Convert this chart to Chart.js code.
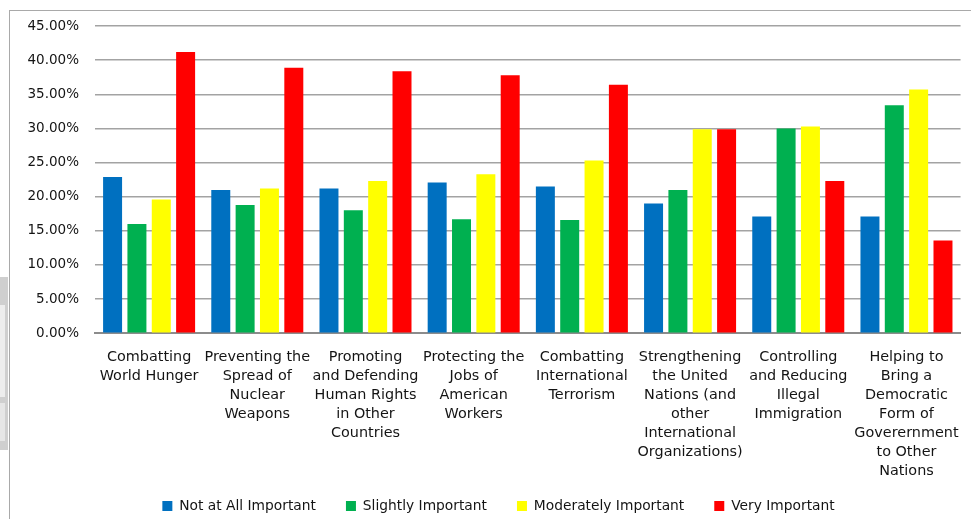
<!DOCTYPE html>
<html>
<head>
<meta charset="utf-8">
<script src="https://cdn.jsdelivr.net/npm/chart.js@4/dist/chart.umd.min.js"></script>
<style>
  html, body { margin: 0; padding: 0; background: #fff; overflow: hidden; }
  body { width: 971px; height: 519px; position: relative; }
  #frame {
    position: absolute; left: 9px; top: 10px;
    width: 970px; height: 530px;
    border-top: 1px solid #a9a9a9; border-left: 1px solid #a9a9a9;
  }
  #wrap { position: absolute; left: 0; top: 1px; width: 964px; height: 523px; }
  /* scrap of the neighbouring window at the left edge */
  #edge { position: absolute; left: 0; top: 277px; width: 8px; height: 173px; background: #cfcfcf; }
  #edge .a { position: absolute; left: 0; top: 28px; width: 5px; height: 92px; background: #ededed; }
  #edge .b { position: absolute; left: 0; top: 126px; width: 5px; height: 38px; background: #e6e6e6; }
</style>
</head>
<body>
<div id="edge"><div class="a"></div><div class="b"></div></div>
<div id="frame"><div id="wrap"><canvas id="c"></canvas></div></div>
<script>
// Importance of U.S. foreign policy goals (% of respondents)
const categories = [
  ["Combatting", "World Hunger"],
  ["Preventing the", "Spread of", "Nuclear", "Weapons"],
  ["Promoting", "and Defending", "Human Rights", "in Other", "Countries"],
  ["Protecting the", "Jobs of", "American", "Workers"],
  ["Combatting", "International", "Terrorism"],
  ["Strengthening", "the United", "Nations (and", "other", "International", "Organizations)"],
  ["Controlling", "and Reducing", "Illegal", "Immigration"],
  ["Helping to", "Bring a", "Democratic", "Form of", "Goverernment", "to Other", "Nations"]
];

const seriesNames = ["Not at All Important", "Slightly Important", "Moderately Important", "Very Important"];
const notAtAll   = [22.9, 21.0, 21.2, 22.1, 21.5, 19.0, 17.1, 17.1];
const slightly   = [16.0, 18.8, 18.0, 16.7, 16.6, 21.0, 30.0, 33.4];
const moderately = [19.6, 21.2, 22.3, 23.3, 25.3, 29.9, 30.3, 35.7];
const very       = [41.2, 38.9, 38.4, 37.8, 36.4, 29.9, 22.3, 13.6];

const yTicks = [0, 5, 10, 15, 20, 25, 30, 35, 40, 45];

const colors = ["#0070C0", "#00B050", "#FFFF00", "#FF0000"];
const seriesValues = [notAtAll, slightly, moderately, very];

const FONT = "'DejaVu Sans', Verdana, sans-serif";
const TEXT = "#141414";

// Nudge the legend row: a bit higher, and centred under the plot rather than the canvas
const legendNudge = {
  id: "legendNudge",
  afterLayout(chart) {
    const lg = chart.legend;
    if (!lg) return;
    lg.top -= 12; lg.bottom -= 12;
    lg.left += 10; lg.right += 10;
  }
};

new Chart(document.getElementById("c"), {
  type: "bar",
  data: {
    labels: categories,
    datasets: seriesValues.map((vals, i) => ({
      label: seriesNames[i],
      data: vals,
      backgroundColor: colors[i],
      borderWidth: 0,
      categoryPercentage: 0.9,
      barPercentage: 0.78
    }))
  },
  plugins: [legendNudge],
  options: {
    responsive: true,
    maintainAspectRatio: false,
    animation: false,
    devicePixelRatio: 1,
    layout: { padding: { top: 5, right: 7, bottom: 0, left: 0 } },
    plugins: {
      tooltip: { enabled: false },
      legend: {
        position: "bottom",
        labels: {
          boxWidth: 10, boxHeight: 10, padding: 30,
          color: TEXT,
          font: { family: FONT, size: 13.8 }
        }
      }
    },
    scales: {
      x: {
        grid: { display: false, drawTicks: false },
        border: { display: true, color: "#8c8c8c", width: 2 },
        ticks: {
          color: TEXT, padding: 15, maxRotation: 0, autoSkip: false,
          font: { family: FONT, size: 14.4, lineHeight: "19px" }
        },
        afterFit: s => { s.height = 148; }
      },
      y: {
        min: 0, max: 45,
        grid: { color: "#a3a3a3", lineWidth: 1.5, drawTicks: true, tickLength: 10, tickColor: "rgba(0,0,0,0)" },
        border: { display: false },
        afterBuildTicks: s => { s.ticks = yTicks.map(v => ({ value: v })); },
        ticks: {
          color: TEXT, padding: 6,
          font: { family: FONT, size: 13.5 },
          callback: v => v.toFixed(2) + "%"
        },
        afterFit: s => { s.width = 85; }
      }
    }
  }
});
</script>
</body>
</html>
